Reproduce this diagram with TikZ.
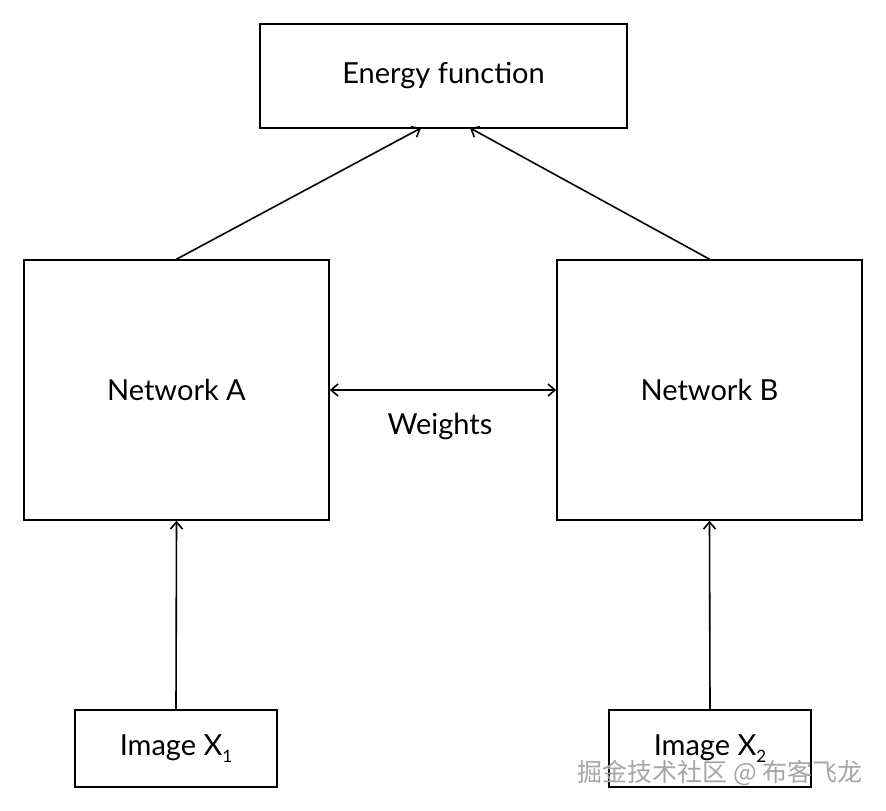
\documentclass[tikz,border=0pt]{standalone}
\usepackage{fontspec}
\setmainfont{Lato}
\newfontfamily\cjk{Noto Sans CJK SC}
\usetikzlibrary{arrows.meta}
\begin{document}
\begin{tikzpicture}[x=1pt,y=-1pt,
  txt/.style={font=\fontsize{29}{34}\selectfont},
  box/.style={draw,line width=1.6pt,inner sep=0pt,txt},
  tip/.tip={Straight Barb[length=7pt,width=12pt,line width=1.6pt]},
  conn/.style={line width=1.6pt,-tip}]
\useasboundingbox[fill=white] (0,0) rectangle (886,811);
\node[box,minimum width=367pt,minimum height=104pt] (E) at (443.5,76) {Energy function};
\node[box,minimum width=305pt,minimum height=260pt] (A) at (176.5,390) {Network A};
\node[box,minimum width=305pt,minimum height=260pt] (B) at (709.5,390) {Network B};
\node[box,minimum width=202pt,minimum height=77pt] (I1) at (176,748.5) {Image X\raisebox{-7pt}{\fontsize{17}{20}\selectfont 1}};
\node[box,minimum width=202pt,minimum height=77pt] (I2) at (710,748.5) {Image X\raisebox{-7pt}{\fontsize{17}{20}\selectfont 2}};
\coordinate (EA) at (421,128);
\coordinate (EB) at (470,128);
\draw[conn] (A.north) -- (EA);
\draw[conn] (B.north) -- (EB);
\draw[conn] (I1.north) -- (A.south);
\draw[conn] (I2.north) -- (B.south);
\draw[line width=1.6pt,tip-tip] (A.east) -- (B.west);
\node[txt] (W) at (440,426) {Weights};
\node[font=\cjk\fontsize{25}{30}\selectfont,text=gray!70] (WM) at (720,773) {掘金技术社区 @ 布客飞龙};
\end{tikzpicture}
\end{document}
